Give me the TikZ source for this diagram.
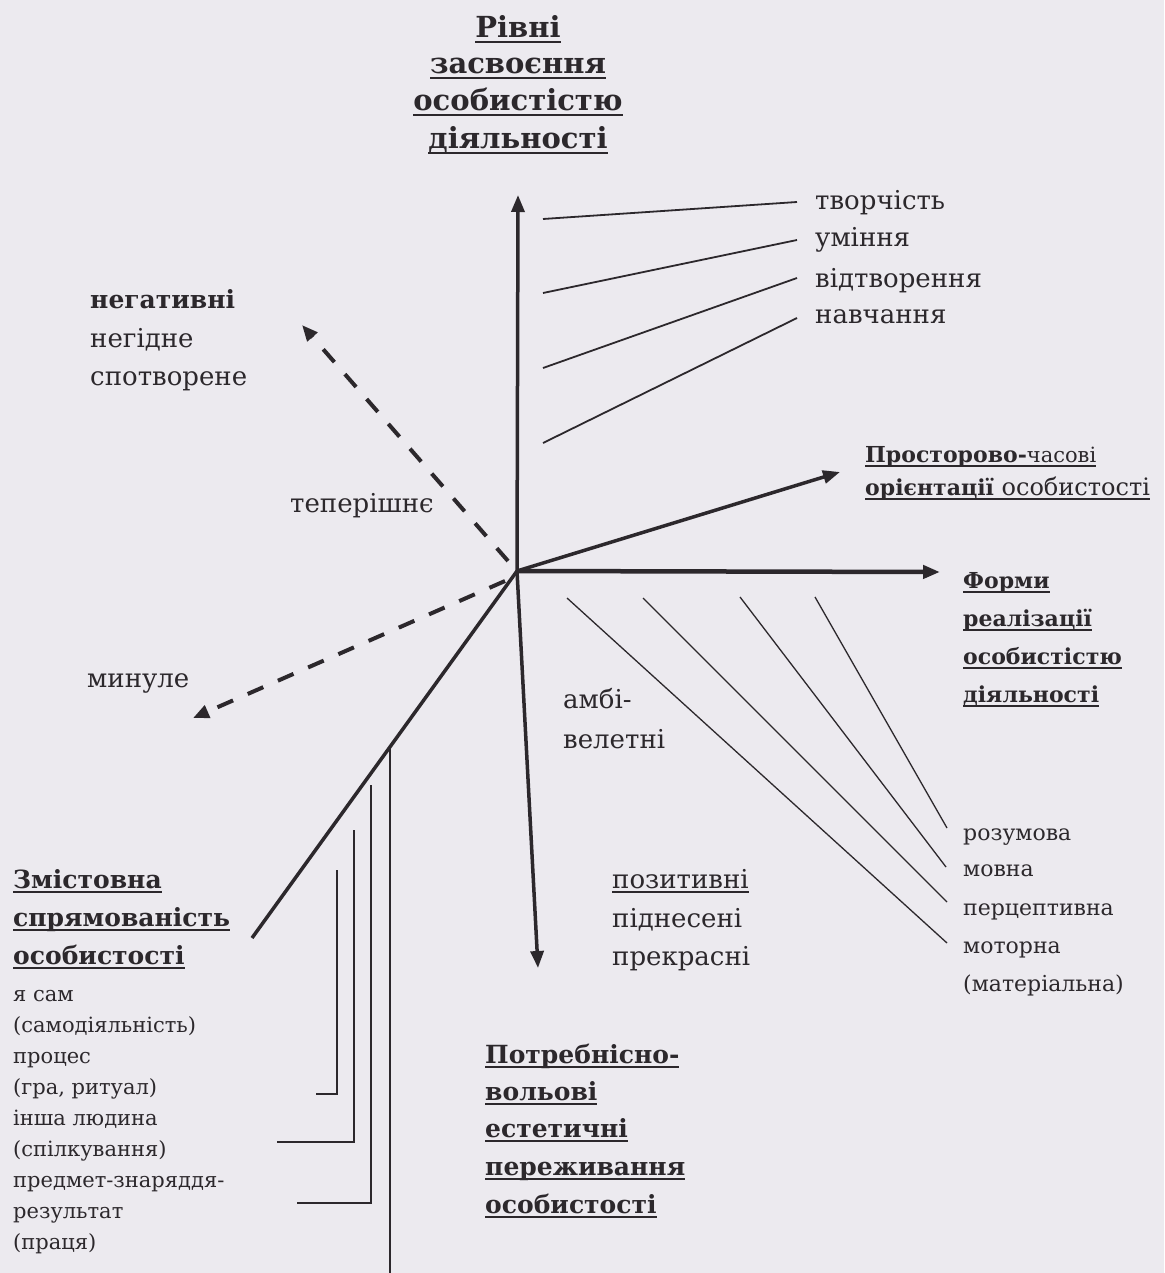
\documentclass[tikz,border=0pt]{standalone}
\usepackage{fontspec}
\setmainfont{DejaVu Serif}
\usetikzlibrary{arrows.meta}
\definecolor{paper}{RGB}{236,234,239}
\definecolor{ink}{RGB}{44,40,44}
\newsavebox\ulbox
\newcommand\myul[1]{\sbox\ulbox{#1}\rlap{\rule[-5pt]{\wd\ulbox}{2.2pt}}\usebox\ulbox}
\tikzset{
  lbl/.style={anchor=base west, inner sep=0pt, text=ink, font=\fontsize{26}{30}\selectfont},
  small/.style={anchor=base west, inner sep=0pt, text=ink, font=\fontsize{22}{26}\selectfont},
  tiny/.style={anchor=base west, inner sep=0pt, text=ink, font=\fontsize{21}{25}\selectfont},
  head/.style={anchor=base west, inner sep=0pt, text=ink, font=\fontsize{25}{29}\selectfont\bfseries},
  headsm/.style={anchor=base west, inner sep=0pt, text=ink, font=\fontsize{22}{26}\selectfont\bfseries},
  titl/.style={anchor=base, inner sep=0pt, text=ink, font=\fontsize{29}{33}\selectfont\bfseries},
  axisarrow/.style={draw=ink, line width=3.5pt, -{Triangle[length=17pt,width=13pt]}},
  dashln/.style={draw=ink, line width=4pt, dash pattern=on 17pt off 16pt, -{Triangle[length=16pt,width=13pt]}},
  solidln/.style={draw=ink, line width=3.5pt},
  thinln/.style={draw=ink, line width=1.8pt},
  hairln/.style={draw=ink, line width=1.3pt},
}
\begin{document}
\begin{tikzpicture}[x=1pt,y=-1pt]
\fill[paper] (0,0) rectangle (1164,1273);
\useasboundingbox (0,0) rectangle (1164,1273);

% ---------- key points ----------
\coordinate (O) at (517,571);
\coordinate (Up) at (518,195);
\coordinate (Dn) at (538,968);
\coordinate (Rt) at (940,572);
\coordinate (UR) at (840,472);
\coordinate (ULs) at (508,561);
\coordinate (UL) at (302,325);
\coordinate (LLs) at (505,581);
\coordinate (LL) at (193,718);
\coordinate (Sd) at (252,938);
\coordinate (Vt) at (390,747);
\coordinate (Vb) at (390,1273);

% ---------- axes and main arrows ----------
\draw[axisarrow] (O) -- (Up);
\draw[axisarrow] (O) -- (Dn);
\draw[axisarrow, line width=4.5pt] (O) -- (Rt);
\draw[axisarrow] (O) -- (UR);
\draw[dashln] (ULs) -- (UL);
\draw[dashln] (LLs) -- (LL);
\draw[solidln] (O) -- (Sd);
\draw[thinln, line width=2.2pt] (Vt) -- (Vb);

% ---------- lines to the upper-right labels ----------
\coordinate (a1s) at (543,219); \coordinate (a1e) at (797,202);
\coordinate (a2s) at (543,293); \coordinate (a2e) at (797,240);
\coordinate (a3s) at (543,368); \coordinate (a3e) at (797,278);
\coordinate (a4s) at (543,443); \coordinate (a4e) at (797,318);
\draw[thinln] (a1s) -- (a1e);
\draw[thinln] (a2s) -- (a2e);
\draw[thinln] (a3s) -- (a3e);
\draw[thinln] (a4s) -- (a4e);

% ---------- lines to the lower-right labels ----------
\coordinate (c1s) at (815,597); \coordinate (c1e) at (947,828);
\coordinate (c2s) at (740,597); \coordinate (c2e) at (946,867);
\coordinate (c3s) at (643,598); \coordinate (c3e) at (947,902);
\coordinate (c4s) at (567,598); \coordinate (c4e) at (947,943);
\draw[hairln] (c1s) -- (c1e);
\draw[hairln] (c2s) -- (c2e);
\draw[hairln] (c3s) -- (c3e);
\draw[hairln] (c4s) -- (c4e);

% ---------- brackets, lower left ----------
\coordinate (b1t) at (371,785); \coordinate (b1b) at (371,1203); \coordinate (b1e) at (297,1203);
\coordinate (b2t) at (354,830); \coordinate (b2b) at (354,1142); \coordinate (b2e) at (277,1142);
\coordinate (b3t) at (337,870); \coordinate (b3b) at (337,1094); \coordinate (b3e) at (316,1094);
\draw[hairln] (b1t) -- (b1b) -- (b1e);
\draw[hairln] (b2t) -- (b2b) -- (b2e);
\draw[hairln] (b3t) -- (b3b) -- (b3e);

% ---------- title ----------
\node[titl] (t1) at (518,38) {\myul{Рівні}};
\node[titl] (t2) at (518,74) {\myul{засвоєння}};
\node[titl] (t3) at (518,111) {\myul{особистістю}};
\node[titl] (t4) at (518,149) {\myul{діяльності}};

% ---------- upper right labels ----------
\node[lbl] (r1) at (815,210) {творчість};
\node[lbl] (r2) at (815,247) {уміння};
\node[lbl] (r3) at (815,287) {відтворення};
\node[lbl] (r4) at (815,323) {навчання};

% ---------- upper left labels ----------
\node[head] (n1) at (90,308) {негативні};
\node[lbl] (n2) at (90,347) {негідне};
\node[lbl] (n3) at (90,385) {спотворене};
\node[lbl] (tp) at (290,512) {теперішнє};
\node[lbl] (mn) at (87,687) {минуле};

% ---------- spatial-temporal ----------
\node[headsm] (p1) at (865,462) {\myul{Просторово-{\mdseries\fontsize{21}{25}\selectfont часові}}};
\node[headsm] (p2) at (865,495) {\myul{орієнтації {\mdseries\fontsize{24}{28}\selectfont особистості}}};

% ---------- forms ----------
\node[headsm] (f1) at (963,588) {\myul{Форми}};
\node[headsm] (f2) at (963,626) {\myul{реалізації}};
\node[headsm] (f3) at (963,664) {\myul{особистістю}};
\node[headsm] (f4) at (963,702) {\myul{діяльності}};

% ---------- lower right labels ----------
\node[small] (m1) at (963,840) {розумова};
\node[small] (m2) at (963,876) {мовна};
\node[small] (m3) at (963,915) {перцептивна};
\node[small] (m4) at (963,953) {моторна};
\node[small] (m5) at (963,991) {(матеріальна)};

% ---------- lower middle labels ----------
\node[lbl] (am1) at (563,708) {амбі-};
\node[lbl] (am2) at (563,748) {велетні};
\node[lbl] (ps1) at (612,888) {\myul{позитивні}};
\node[lbl] (ps2) at (612,927) {піднесені};
\node[lbl] (ps3) at (612,965) {прекрасні};

\node[head] (q1) at (485,1063) {\myul{Потребнісно-}};
\node[head] (q2) at (485,1100) {\myul{вольові}};
\node[head] (q3) at (485,1137) {\myul{естетичні}};
\node[head] (q4) at (485,1175) {\myul{переживання}};
\node[head] (q5) at (485,1213) {\myul{особистості}};

% ---------- lower left labels ----------
\node[head] (z1) at (13,888) {\myul{Змістовна}};
\node[head] (z2) at (13,926) {\myul{спрямованість}};
\node[head] (z3) at (13,964) {\myul{особистості}};
\node[tiny] (s1) at (13,1001) {я сам};
\node[tiny] (s2) at (13,1032) {(самодіяльність)};
\node[tiny] (s3) at (13,1063) {процес};
\node[tiny] (s4) at (13,1094) {(гра, ритуал)};
\node[tiny] (s5) at (13,1125) {інша людина};
\node[tiny] (s6) at (13,1156) {(спілкування)};
\node[tiny] (s7) at (13,1187) {предмет-знаряддя-};
\node[tiny] (s8) at (13,1218) {результат};
\node[tiny] (s9) at (13,1249) {(праця)};
\end{tikzpicture}
\end{document}
